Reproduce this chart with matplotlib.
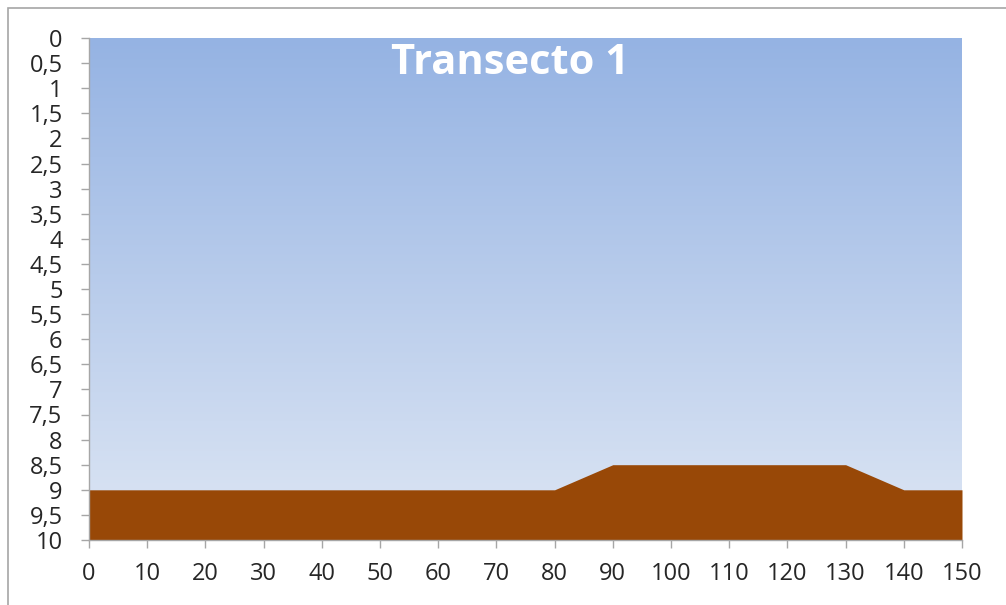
import numpy as np
import matplotlib.pyplot as plt
from matplotlib.colors import LinearSegmentedColormap
from matplotlib.patches import Rectangle

plt.rcParams['font.family'] = ['Open Sans', 'DejaVu Sans']

# Transect profile: distance (m) and depth (m)
distancia = [0, 10, 20, 30, 40, 50, 60, 70, 80, 90, 100, 110, 120, 130, 140, 150]
profundidad = [9, 9, 9, 9, 9, 9, 9, 9, 9, 8.5, 8.5, 8.5, 8.5, 8.5, 9, 9]
fondo = 10

y_ticks = np.arange(0, 10.5, 0.5)
y_labels = [f"{v:g}".replace('.', ',') for v in y_ticks]
x_ticks = list(range(0, 151, 10))

fig = plt.figure(figsize=(10.06, 6.05), dpi=100)
ax = fig.add_axes([89 / 1006, 1 - 540 / 605, (962 - 89) / 1006, (540 - 38) / 605])

# Outer chart border (top/left visible)
fig.patches.append(Rectangle((8 / 1006, -0.1), 1.2, 1 - 8 / 605 + 0.1,
                             transform=fig.transFigure, fill=False,
                             edgecolor='#a6a6a6', linewidth=1.2))

# Water gradient background
agua = LinearSegmentedColormap.from_list('agua', ['#95b3e3', '#dde6f4'])
grad = np.linspace(0, 1, 256).reshape(-1, 1)
ax.imshow(grad, cmap=agua, aspect='auto', extent=[0, 150, 10, 0], zorder=0)

# Seabed
ax.fill_between(distancia, profundidad, fondo, color='#984807', linewidth=0, zorder=2)

ax.set_xlim(0, 150)
ax.set_ylim(10, 0)
ax.set_yticks(y_ticks)
ax.set_yticklabels(y_labels)
ax.set_xticks(x_ticks)

for side in ['top', 'right']:
    ax.spines[side].set_visible(False)
for side in ['left', 'bottom']:
    ax.spines[side].set_color('#a6a6a6')
    ax.spines[side].set_linewidth(1)

ax.tick_params(axis='both', colors='#a6a6a6', labelcolor='#262626',
               labelsize=17, length=6, width=1)
ax.tick_params(axis='x', pad=10)
ax.tick_params(axis='y', pad=13)

fig.text(0.507, 0.895, 'Transecto 1', color='white', fontsize=30,
         fontweight='bold', ha='center', va='center')

fig.savefig('out.png', dpi=100)
